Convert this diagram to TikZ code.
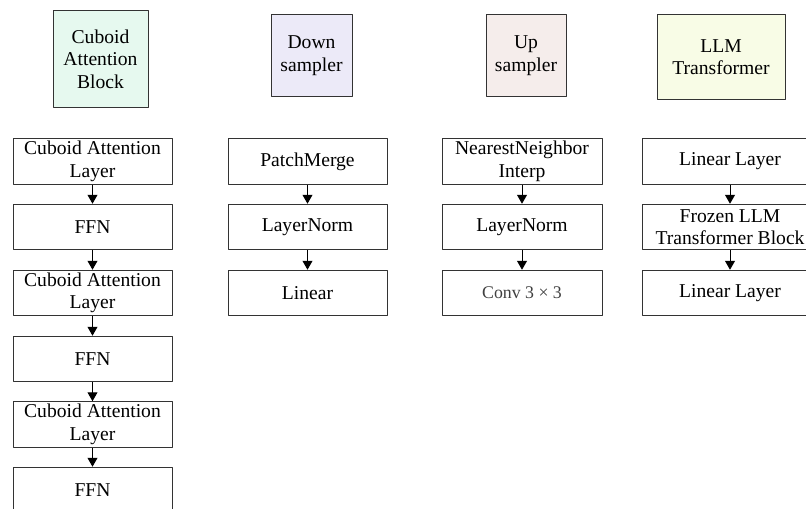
\documentclass[tikz,border=0pt]{standalone}
\usepackage{fontspec}
\setmainfont{Liberation Serif}
\usetikzlibrary{arrows.meta}
% fills of the four title boxes
\definecolor{cabgreen}{HTML}{E6F9EF}
\definecolor{downlilac}{HTML}{ECEAF8}
\definecolor{uppink}{HTML}{F5EDEB}
\definecolor{llmyellow}{HTML}{F8FCE6}
\begin{document}
\begin{tikzpicture}[x=0.5pt, y=-0.5pt, font=\fontsize{9.8}{11.3}\selectfont, line join=round,
  >={Stealth[length=4.5pt,width=5pt,inset=0pt]},
  hdr/.style={draw=black!80, line width=0.5pt, align=center, inner sep=0pt},
  layer/.style={draw=black!80, line width=0.5pt, align=center, inner sep=0pt,
    minimum width=79.5pt, minimum height=22.75pt}]
% column centres (px)
\def\xa{92.5}
\def\xb{307.5}
\def\xc{522}
\def\xd{730}
\useasboundingbox (0,0) rectangle (806,508);
\clip (0,0) rectangle (806,508);
% Title boxes
\node[hdr, fill=cabgreen, minimum width=47.5pt, minimum height=48pt] (cab) at (100.5,59) {Cuboid\\Attention\\Block};
\node[hdr, fill=downlilac, minimum width=40.5pt, minimum height=40.5pt] (down) at (311.5,55.5) {Down\\sampler};
\node[hdr, fill=uppink, minimum width=40pt, minimum height=40.5pt] (up) at (526,55.5) {Up\\sampler};
\node[hdr, fill=llmyellow, minimum width=64pt, minimum height=42pt] (llm) at (721,57) {LLM\\Transformer};
% Cuboid attention block: layers
\node[layer] (cal1) at (\xa,161.5) {Cuboid Attention\\Layer};
\node[layer] (ffn1) at (\xa,227) {FFN};
\node[layer] (cal2) at (\xa,293) {Cuboid Attention\\Layer};
\node[layer] (ffn2) at (\xa,359) {FFN};
\node[layer] (cal3) at (\xa,424.5) {Cuboid Attention\\Layer};
\node[layer] (ffn3) at (\xa,490) {FFN};
% Down sampler
\node[layer] (pm) at (\xb,161.5) {PatchMerge};
\node[layer] (lnd) at (\xb,227) {LayerNorm};
\node[layer] (lin) at (\xb,293) {Linear};
% Up sampler
\node[layer, minimum width=80pt] (nni) at (\xc,161.5) {NearestNeighbor\\Interp};
\node[layer, minimum width=80pt] (lnu) at (\xc,227) {LayerNorm};
\node[layer, minimum width=80pt, font=\fontsize{8.9}{10}\selectfont, text=black!75] (conv) at (\xc,293) {Conv 3 × 3};
% LLM transformer
\node[layer, minimum width=88pt] (lla) at (\xd,161.5) {Linear Layer};
\node[layer, minimum width=88pt] (frz) at (\xd,227) {Frozen LLM\\Transformer Block};
\node[layer, minimum width=88pt] (llb) at (\xd,293) {Linear Layer};
% arrows between layers
\draw[->, line width=0.5pt] (cal1) -- (ffn1);
\draw[->, line width=0.5pt] (ffn1) -- (cal2);
\draw[->, line width=0.5pt] (cal2) -- (ffn2);
\draw[->, line width=0.5pt] (ffn2) -- (cal3);
\draw[->, line width=0.5pt] (cal3) -- (ffn3);
\draw[->, line width=0.5pt] (pm) -- (lnd);
\draw[->, line width=0.5pt] (lnd) -- (lin);
\draw[->, line width=0.5pt] (nni) -- (lnu);
\draw[->, line width=0.5pt] (lnu) -- (conv);
\draw[->, line width=0.5pt] (lla) -- (frz);
\draw[->, line width=0.5pt] (frz) -- (llb);
\end{tikzpicture}
\end{document}
